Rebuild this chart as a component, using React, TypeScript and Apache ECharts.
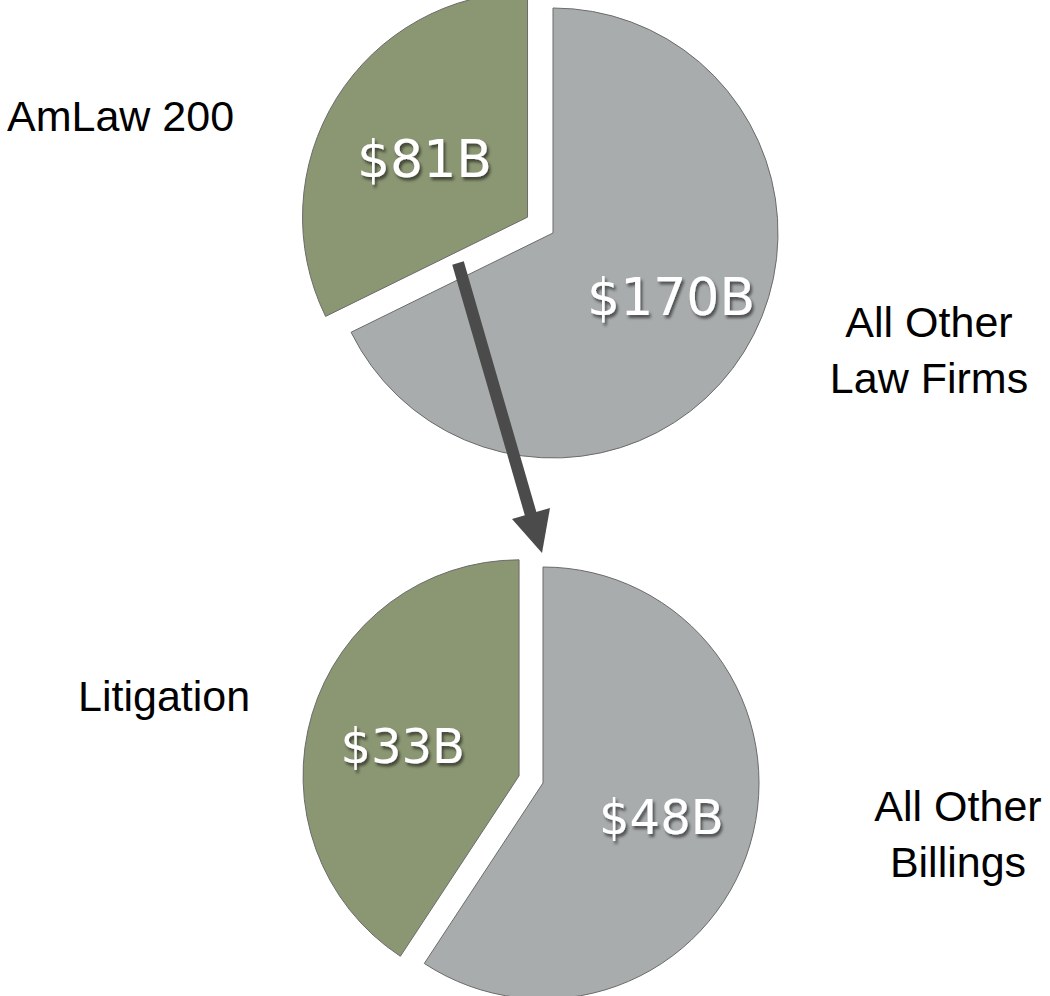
import React, { useEffect, useRef } from "react";
import * as echarts from "echarts";

// ---- data ----
const topCategories = ["AmLaw 200", "All Other\nLaw Firms"];
const topValues = [81, 170];
const bottomCategories = ["Litigation", "All Other\nBillings"];
const bottomValues = [33, 48];
const sliceColors = ["#8b9673", "#a8acad"];

const valueLabel = (v: number) => "$" + v + "B";

export default function App() {
  const ref = useRef<HTMLDivElement>(null);

  useEffect(() => {
    if (!ref.current) return;
    const chart = echarts.init(ref.current, undefined, { renderer: "svg" });

    const makeData = (cats: string[], vals: number[]) =>
      vals.map((v, i) => ({
        name: cats[i],
        value: v,
        selected: i === 0,
        itemStyle: { color: sliceColors[i] },
      }));

    const insideLabel = (size: number) => ({
      show: true,
      position: "inside" as const,
      formatter: (p: any) => valueLabel(p.value),
      color: "#ffffff",
      fontFamily: "DejaVu Sans",
      fontSize: size,
      textShadowColor: "rgba(0,0,0,0.55)",
      textShadowBlur: 3,
      textShadowOffsetX: 2,
      textShadowOffsetY: 3,
    });

    const pieBase = {
      type: "pie" as const,
      clockwise: false,
      startAngle: 90,
      selectedMode: "single" as const,
      labelLine: { show: false },
      itemStyle: { borderColor: "#6b6b6b", borderWidth: 1 },
      emphasis: { disabled: true, scale: false },
      select: { itemStyle: { borderColor: "#6b6b6b", borderWidth: 1 } },
      silent: true,
    };

    const textFont = '43px "Liberation Sans"';

    chart.setOption({
      animation: false,
      series: [
        {
          ...pieBase,
          name: "top",
          center: [553, 233],
          radius: 225,
          selectedOffset: 30,
          label: insideLabel(52),
          labelLayout: (p: any) => (p.dataIndex === 1 ? { dx: 20, dy: 3 } : { dx: -5, dy: 3 }),
          data: makeData(topCategories, topValues),
        },
        {
          ...pieBase,
          name: "bottom",
          center: [543, 783],
          radius: 216,
          selectedOffset: 25,
          label: insideLabel(48),
          labelLayout: (p: any) => (p.dataIndex === 1 ? { dx: 12, dy: 2 } : { dx: -10, dy: 2 }),
          data: makeData(bottomCategories, bottomValues),
        },
      ],
      graphic: [
        {
          type: "line",
          z: 100,
          shape: { x1: 458, y1: 263, x2: 531, y2: 515 },
          style: { stroke: "#4b4b4b", lineWidth: 12 },
        },
        {
          type: "polygon",
          z: 100,
          shape: { points: [[512, 519], [550, 508], [542, 553]] },
          style: { fill: "#4b4b4b" },
        },
        {
          type: "text",
          x: 7,
          y: 116,
          style: { text: topCategories[0], font: textFont, fill: "#000", textAlign: "left", textVerticalAlign: "middle" },
        },
        {
          type: "text",
          x: 929,
          y: 350,
          style: { text: topCategories[1], font: textFont, fill: "#000", textAlign: "center", textVerticalAlign: "middle", lineHeight: 56 },
        },
        {
          type: "text",
          x: 78,
          y: 696,
          style: { text: bottomCategories[0], font: textFont, fill: "#000", textAlign: "left", textVerticalAlign: "middle" },
        },
        {
          type: "text",
          x: 958,
          y: 834,
          style: { text: bottomCategories[1], font: textFont, fill: "#000", textAlign: "center", textVerticalAlign: "middle", lineHeight: 56 },
        },
      ],
    });

    return () => chart.dispose();
  }, []);

  return (
    <div
      ref={ref}
      style={{ position: "fixed", left: 0, top: 0, width: 1050, height: 996, background: "#ffffff" }}
    />
  );
}
